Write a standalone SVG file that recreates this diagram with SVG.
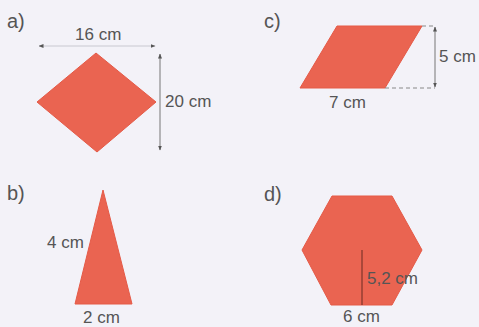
<svg xmlns="http://www.w3.org/2000/svg" width="479" height="327" viewBox="0 0 479 327">
<defs>
<style>
.shape{fill:#ea6451;stroke:#e55a47;stroke-width:1}
.lbl{font-family:"Liberation Sans",Arial,sans-serif;font-size:17px;fill:#555}
.tag{font-family:"Liberation Sans",Arial,sans-serif;font-size:20px;fill:#555}
.dim{stroke:#777;stroke-width:1;fill:none}
.dimlight{stroke:#c8c8d0;stroke-width:1;fill:none}
.dash{stroke:#888;stroke-width:1;stroke-dasharray:4,3;fill:none}
</style>
<marker id="ah" viewBox="0 0 10 10" refX="9" refY="5" markerWidth="5" markerHeight="5" orient="auto-start-reverse">
<path d="M0,1 L10,5 L0,9 Z" fill="#555"/>
</marker>
</defs>
<rect width="479" height="327" fill="#f3f2f8"/>
<g id="a">
<text class="tag" x="7" y="28">a)</text>
<polygon class="shape" points="37,102 96,53 156,102 97,152"/>
<text class="lbl" x="75" y="40">16 cm</text>
<text class="lbl" x="165" y="107">20 cm</text>
</g>
<g id="c">
<text class="tag" x="264" y="28">c)</text>
<polygon class="shape" points="337,26 422,26 385,88 300,88"/>
<text class="lbl" x="329" y="108">7 cm</text>
<text class="lbl" x="439" y="62">5 cm</text>
</g>
<g id="b">
<text class="tag" x="7" y="200">b)</text>
<polygon class="shape" points="103,190 132,304 75,304"/>
<text class="lbl" x="47" y="248">4 cm</text>
<text class="lbl" x="83" y="323">2 cm</text>
</g>
<g id="d">
<text class="tag" x="264" y="201">d)</text>
<polygon class="shape" points="332,196 392,196 422,250 392,305 331,305 302,250"/>
<text class="lbl" x="367" y="284">5,2 cm</text>
<text class="lbl" x="343" y="322">6 cm</text>
</g>
<g id="connectors">
<line class="dimlight" x1="39" y1="46" x2="155" y2="46" marker-start="url(#ah)" marker-end="url(#ah)"/>
<line class="dim" x1="160" y1="54" x2="160" y2="150" marker-start="url(#ah)" marker-end="url(#ah)"/>
<line class="dash" x1="422" y1="26" x2="435" y2="26"/>
<line class="dash" x1="385" y1="88" x2="435" y2="88"/>
<line class="dim" x1="435" y1="27" x2="435" y2="87" marker-start="url(#ah)" marker-end="url(#ah)"/>
<line x1="362" y1="250" x2="362" y2="305" stroke="#6a2a22" stroke-width="1"/>
</g>
</svg>
